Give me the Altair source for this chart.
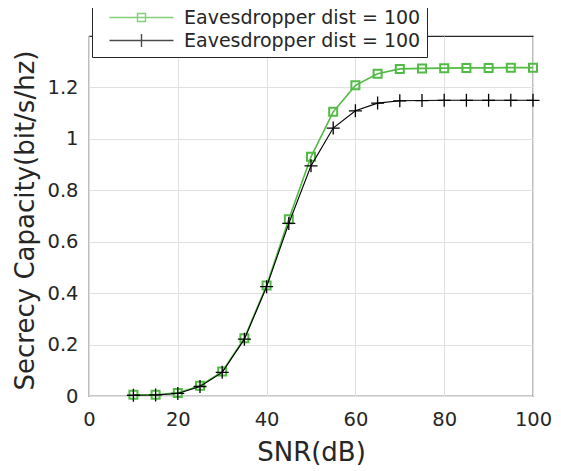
import altair as alt
import pandas as pd

snr = [10, 15, 20, 25, 30, 35, 40, 45, 50, 55, 60, 65, 70, 75, 80, 85, 90, 95, 100]
green_vals = [0.005, 0.005, 0.012, 0.040, 0.095, 0.225, 0.430, 0.687, 0.930, 1.105,
              1.208, 1.253, 1.272, 1.274, 1.275, 1.276, 1.276, 1.277, 1.277]
black_vals = [0.003, 0.004, 0.010, 0.037, 0.092, 0.221, 0.425, 0.671, 0.895, 1.042,
              1.109, 1.139, 1.148, 1.149, 1.150, 1.150, 1.150, 1.150, 1.150]
series_names = ["A", "B"]
legend_label = "Eavesdropper dist = 100"
x_ticks = [0, 20, 40, 60, 80, 100]
y_ticks = [0, 0.2, 0.4, 0.6, 0.8, 1.0, 1.2]

GREEN = "#52bb44"
BLACK = "#000000"
FONT = "DejaVu Sans"

df = pd.DataFrame({
    "snr": snr * 2,
    "cap": green_vals + black_vals,
    "series": ["A"] * len(snr) + ["B"] * len(snr),
})

x_enc = alt.X("snr:Q", scale=alt.Scale(domain=[0, 100], nice=False),
              axis=alt.Axis(values=x_ticks, title="SNR(dB)", labelFontSize=19.5,
                            labelPadding=14, ticks=False, tickSize=0, domain=False,
                            titleFontSize=26, titleY=64, titleBaseline="alphabetic",
                            gridColor="#e0e0e0", labelFlush=False))
y_enc = alt.Y("cap:Q", scale=alt.Scale(domain=[0, 1.4], nice=False),
              axis=alt.Axis(values=y_ticks, title="Secrecy Capacity(bit/s/hz)",
                            format="~g", labelFontSize=19.5, labelPadding=11,
                            ticks=False, tickSize=0, domain=False,
                            titleFontSize=26, titleX=-56, titleY=184, titleAngle=270,
                            titleBaseline="alphabetic", titleAlign="center",
                            gridColor="#e0e0e0", labelFlush=False))

base = alt.Chart(df)

line_a = base.transform_filter("datum.series == 'A'").mark_line(
    color=GREEN, strokeWidth=1.6).encode(x=x_enc, y=y_enc)
pts_a = base.transform_filter("datum.series == 'A'").mark_point(
    shape="square", size=64, color=GREEN, strokeWidth=2, filled=False, opacity=1
).encode(x="snr:Q", y="cap:Q")
line_b = base.transform_filter("datum.series == 'B'").mark_line(
    color=BLACK, strokeWidth=1.1).encode(x="snr:Q", y="cap:Q")
pts_b = base.transform_filter("datum.series == 'B'").mark_point(
    shape="M-1,0H1M0,-1V1", size=169, color=BLACK, strokeWidth=1.3, filled=False, opacity=1
).encode(x="snr:Q", y="cap:Q")

legend_paths = ["M-4,0H4M-0.5,-0.5H0.5V0.5H-0.5Z", "M-4,0H4M0,-0.8V0.8"]
leg_props = dict(
    orient="none", legendX=3, legendY=-34, title=None,
    labelExpr=f"'{legend_label}\u00a0'", labelFont=FONT, labelFontSize=19,
    labelColor="#262626", labelLimit=500, padding=6, fillColor="white",
    strokeColor="#262626", cornerRadius=0, symbolSize=256, symbolStrokeWidth=1.4,
    symbolOffset=34, labelOffset=33, rowPadding=3,
)
legend_layer = base.transform_filter("datum.snr < 0").mark_point(filled=False).encode(
    x="snr:Q", y="cap:Q",
    color=alt.Color("series:N", scale=alt.Scale(domain=series_names, range=[GREEN, BLACK]),
                    legend=alt.Legend(**leg_props)),
    shape=alt.Shape("series:N", scale=alt.Scale(domain=series_names, range=legend_paths),
                    legend=alt.Legend(**leg_props)),
)

chart = alt.layer(line_a, pts_a, line_b, pts_b, legend_layer).properties(
    width=444, height=360,
    autosize=alt.AutoSizeParams(type="none"),
    padding={"left": 81, "top": 28, "right": 20, "bottom": 75},
).configure_view(stroke="#262626", strokeWidth=1.2).configure_axis(
    labelFont=FONT, titleFont=FONT, labelColor="#262626", titleColor="#262626",
    titleFontWeight="normal", gridOpacity=1
)

chart.save("out.html", embed_options={"renderer": "svg", "actions": False})
